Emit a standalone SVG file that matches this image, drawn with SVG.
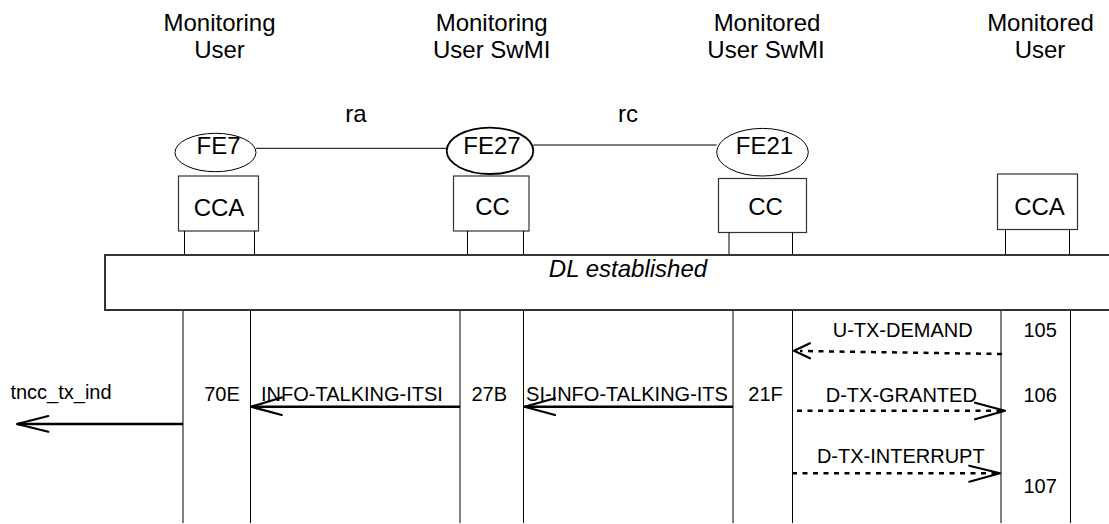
<svg xmlns="http://www.w3.org/2000/svg" width="1109" height="524" viewBox="0 0 1109 524">
<style>
text{font-family:"Liberation Sans",Arial,sans-serif;fill:#000}
.hd{font-size:24px;text-anchor:middle}
.fe{font-size:24px;text-anchor:middle}
.lb{font-size:20px;text-anchor:middle}
.ell{fill:#fff;stroke:#000;stroke-width:1}
.box{fill:#fff;stroke:#333;stroke-width:1.2}
.ln{stroke:#000;stroke-width:1;fill:none}
.msg{stroke:#000;stroke-width:2.5;fill:none}
.dot{stroke:#000;stroke-width:2.5;fill:none;stroke-dasharray:5 5.5}
.head{stroke:#000;stroke-width:2.2;fill:none;stroke-linecap:round;stroke-linejoin:round}
</style>
<rect x="0" y="0" width="1109" height="524" fill="#fff"/>

<g id="monitoring-user">
<text class="hd" x="219.5" y="30.5">Monitoring</text>
<text class="hd" x="219.5" y="58">User</text>
<ellipse class="ell" cx="215.5" cy="152.5" rx="40.5" ry="19.2"/>
<text class="fe" x="218.5" y="154">FE7</text>
<rect class="box" x="178.5" y="176" width="80" height="55"/>
<text class="fe" x="219" y="215.5">CCA</text>
<path class="ln" d="M184.5 231V255M254.5 231V255M183 310V523M250.5 310V523"/>
</g>

<g id="monitoring-swmi">
<text class="hd" x="491.7" y="30.5">Monitoring</text>
<text class="hd" x="491.7" y="58">User SwMI</text>
<ellipse cx="490" cy="150.8" rx="43.3" ry="23.2" fill="#fff" stroke="#000" stroke-width="1.8"/>
<text class="fe" x="492" y="154">FE27</text>
<rect class="box" x="453.5" y="176" width="75.5" height="55"/>
<text class="fe" x="492.5" y="215">CC</text>
<path class="ln" d="M467.5 231V255M523.5 231V255M460 310V523M523.5 310V523"/>
</g>

<g id="monitored-swmi">
<text class="hd" x="767" y="30.5">Monitored</text>
<text class="hd" x="766" y="58">User SwMI</text>
<ellipse class="ell" cx="762.5" cy="152.2" rx="45.8" ry="23.8"/>
<text class="fe" x="764.5" y="154">FE21</text>
<rect class="box" x="718.5" y="178.5" width="88" height="54"/>
<text class="fe" x="765.5" y="215">CC</text>
<path class="ln" d="M729 232.5V255M792.5 232.5V255M733 310V523M792.5 310V523"/>
</g>

<g id="monitored-user">
<text class="hd" x="1040.5" y="30.5">Monitored</text>
<text class="hd" x="1040" y="58">User</text>
<rect class="box" x="997.5" y="174" width="80" height="55.5"/>
<text class="fe" x="1039.5" y="215">CCA</text>
<path class="ln" d="M1005.5 229.5V255M1069.5 229.5V255M1001 310V523M1070.5 310V523"/>
</g>

<g id="dl-established">
<rect x="105" y="255" width="1010" height="55" fill="#fff" stroke="#333" stroke-width="2"/>
<text x="628" y="277" font-size="24" font-style="italic" text-anchor="middle">DL established</text>
</g>

<g id="connectors">
<line class="ln" x1="256" y1="148.3" x2="446.7" y2="148.3"/>
<text class="fe" x="356" y="121.5">ra</text>
<line class="ln" x1="533.3" y1="145" x2="716.7" y2="145"/>
<text class="fe" x="628" y="121.5">rc</text>

<line class="msg" x1="183" y1="424" x2="17" y2="424"/>
<path class="head" d="M48.3 416L17 424L48.3 431.7"/>
<text class="lb" x="61" y="399">tncc_tx_ind</text>

<text class="lb" x="222" y="400.5">70E</text>
<line class="msg" x1="460" y1="406.7" x2="251" y2="406.7"/>
<path class="head" d="M281.7 397.5L251 406.7L281.7 415"/>
<text class="lb" x="352" y="400.5">INFO-TALKING-ITSI</text>

<text class="lb" x="489.2" y="400.5">27B</text>
<line class="msg" x1="733" y1="406.7" x2="524.5" y2="406.7"/>
<path class="head" d="M555 398.3L524.5 406.7L555 415"/>
<text class="lb" x="627" y="400.5">SI-INFO-TALKING-ITS</text>

<text class="lb" x="765.5" y="400.5">21F</text>

<text class="lb" x="902.7" y="337.3">U-TX-DEMAND</text>
<text class="lb" x="1040.2" y="337.3">105</text>
<line class="dot" x1="1002" y1="354" x2="800" y2="351"/>
<path class="head" d="M810 343.3L794 350.7L810 358.3"/>

<text class="lb" x="901.3" y="401.5">D-TX-GRANTED</text>
<text class="lb" x="1040.2" y="401.5">106</text>
<line class="dot" x1="797" y1="410.7" x2="1001" y2="410.7"/>
<path class="head" d="M975 402.7L1005 410.7L975 419.3"/>

<text class="lb" x="900.8" y="462.7">D-TX-INTERRUPT</text>
<line class="dot" x1="792" y1="473.3" x2="996" y2="473.3"/>
<path class="head" d="M969.3 465.7L1000 473.3L969.3 481.7"/>
<text class="lb" x="1040.2" y="493.3">107</text>
</g>
</svg>
